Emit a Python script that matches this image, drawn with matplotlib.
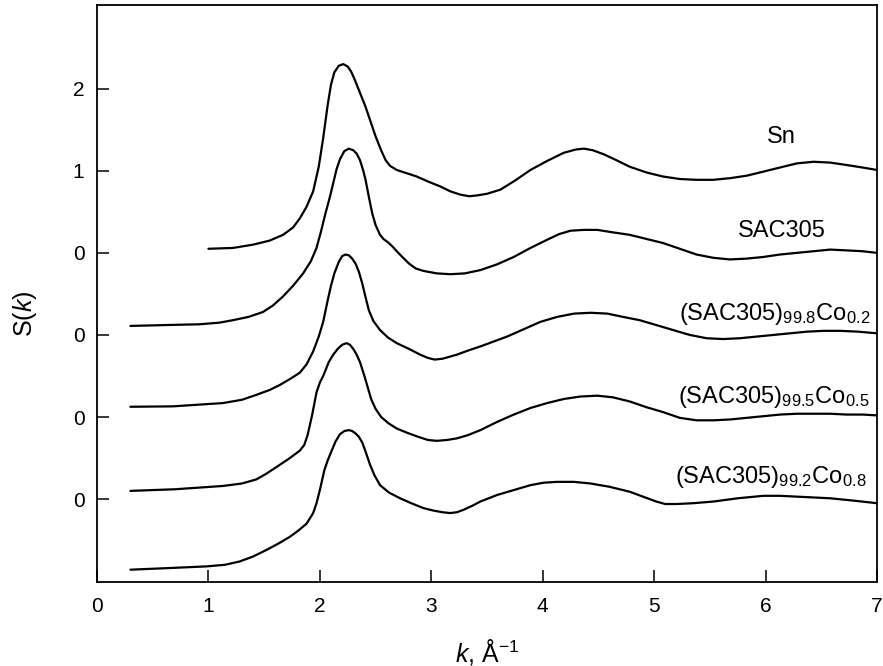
import matplotlib
matplotlib.use("Agg")
import matplotlib.pyplot as plt

plt.rcParams['font.family'] = ['Liberation Sans', 'DejaVu Sans']
plt.rcParams['mathtext.fontset'] = 'custom'
plt.rcParams['mathtext.rm'] = 'Liberation Sans'
plt.rcParams['mathtext.it'] = 'Liberation Sans:italic'

# ---------------- data ----------------
sn_k = [1.00, 1.22, 1.40, 1.55, 1.67, 1.76, 1.82, 1.88, 1.94, 1.99, 2.03, 2.07, 2.10, 2.13,
        2.17, 2.21, 2.25, 2.28, 2.31, 2.36, 2.41, 2.46, 2.50, 2.55, 2.59, 2.63, 2.69, 2.78,
        2.87, 2.97, 3.08, 3.17, 3.26, 3.34, 3.41, 3.50, 3.62, 3.75, 3.89, 4.04, 4.19, 4.30,
        4.37, 4.45, 4.55, 4.66, 4.78, 4.93, 5.08, 5.23, 5.38, 5.53, 5.68, 5.83, 5.98, 6.13,
        6.28, 6.43, 6.58, 6.73, 6.87, 7.00]
sn_s = [0.05, 0.06, 0.10, 0.15, 0.22, 0.31, 0.42, 0.56, 0.75, 1.05, 1.40, 1.80, 2.05, 2.20,
        2.28, 2.30, 2.27, 2.21, 2.12, 1.95, 1.78, 1.58, 1.42, 1.25, 1.13, 1.06, 1.01, 0.97,
        0.93, 0.87, 0.81, 0.75, 0.71, 0.69, 0.70, 0.72, 0.77, 0.88, 1.01, 1.12, 1.22, 1.26,
        1.27, 1.25, 1.20, 1.13, 1.05, 0.98, 0.93, 0.90, 0.89, 0.89, 0.91, 0.94, 0.99, 1.04,
        1.09, 1.11, 1.10, 1.07, 1.04, 1.01]

sac_k = [0.30, 0.60, 0.92, 1.10, 1.22, 1.36, 1.49, 1.58, 1.67, 1.76, 1.85, 1.92, 1.97, 2.01,
         2.05, 2.09, 2.12, 2.15, 2.18, 2.22, 2.26, 2.30, 2.33, 2.36, 2.39, 2.41, 2.44, 2.47,
         2.50, 2.54, 2.57, 2.61, 2.65, 2.69, 2.74, 2.80, 2.86, 2.93, 3.05, 3.17, 3.30, 3.44,
         3.59, 3.74, 3.89, 4.04, 4.15, 4.25, 4.37, 4.49, 4.63, 4.78, 4.93, 5.08, 5.23, 5.38,
         5.53, 5.68, 5.83, 5.98, 6.13, 6.28, 6.43, 6.58, 6.73, 6.87, 7.00]
sac_s = [0.11, 0.12, 0.13, 0.15, 0.18, 0.22, 0.28, 0.36, 0.47, 0.60, 0.75, 0.90, 1.06, 1.26,
         1.48, 1.68, 1.85, 2.02, 2.14, 2.24, 2.27, 2.25, 2.21, 2.13, 2.00, 1.89, 1.68, 1.48,
         1.34, 1.22, 1.17, 1.13, 1.08, 1.02, 0.95, 0.87, 0.81, 0.78, 0.75, 0.74, 0.75, 0.79,
         0.86, 0.95, 1.06, 1.16, 1.23, 1.27, 1.28, 1.28, 1.25, 1.22, 1.17, 1.12, 1.05, 0.98,
         0.94, 0.92, 0.93, 0.95, 0.98, 1.00, 1.02, 1.04, 1.03, 1.02, 1.00]

co2_k = [0.30, 0.68, 1.13, 1.30, 1.43, 1.55, 1.64, 1.74, 1.82, 1.88, 1.94, 1.99, 2.03, 2.07,
         2.10, 2.13, 2.17, 2.20, 2.23, 2.26, 2.29, 2.32, 2.35, 2.38, 2.41, 2.44, 2.48, 2.54,
         2.61, 2.69, 2.80, 2.90, 2.97, 3.03, 3.10, 3.23, 3.33, 3.44, 3.56, 3.68, 3.83, 3.98,
         4.13, 4.28, 4.43, 4.58, 4.72, 4.87, 5.02, 5.17, 5.32, 5.47, 5.62, 5.77, 5.92, 6.07,
         6.22, 6.37, 6.52, 6.67, 6.83, 7.00]
co2_s = [0.125, 0.13, 0.17, 0.21, 0.27, 0.33, 0.39, 0.47, 0.54, 0.64, 0.80, 0.98, 1.16, 1.42,
         1.60, 1.75, 1.89, 1.96, 1.98, 1.97, 1.93, 1.87, 1.77, 1.63, 1.46, 1.30, 1.17, 1.06,
         0.97, 0.90, 0.83, 0.76, 0.72, 0.70, 0.71, 0.76, 0.81, 0.86, 0.92, 0.98, 1.07, 1.16,
         1.22, 1.26, 1.27, 1.26, 1.22, 1.18, 1.12, 1.06, 1.00, 0.96, 0.95, 0.96, 0.98, 1.00,
         1.02, 1.04, 1.05, 1.05, 1.04, 1.02]

co5_k = [0.30, 0.70, 1.13, 1.30, 1.43, 1.52, 1.61, 1.72, 1.82, 1.86, 1.89, 1.93, 1.97, 2.00,
         2.03, 2.08, 2.12, 2.16, 2.20, 2.24, 2.27, 2.30, 2.33, 2.36, 2.40, 2.43, 2.46, 2.50,
         2.55, 2.62, 2.69, 2.78, 2.88, 2.97, 3.05, 3.14, 3.23, 3.33, 3.44, 3.59, 3.74, 3.89,
         4.04, 4.19, 4.34, 4.49, 4.63, 4.78, 4.93, 5.08, 5.23, 5.38, 5.53, 5.68, 5.83, 5.98,
         6.13, 6.28, 6.43, 6.58, 6.73, 6.87, 7.00]
co5_s = [0.10, 0.12, 0.16, 0.19, 0.24, 0.31, 0.39, 0.49, 0.59, 0.66, 0.78, 1.02, 1.30, 1.42,
         1.50, 1.67, 1.76, 1.83, 1.88, 1.90, 1.88, 1.83, 1.76, 1.67, 1.50, 1.36, 1.22, 1.10,
         1.00, 0.92, 0.86, 0.81, 0.76, 0.72, 0.71, 0.72, 0.74, 0.78, 0.84, 0.94, 1.03, 1.11,
         1.17, 1.22, 1.25, 1.26, 1.24, 1.19, 1.12, 1.06, 0.99, 0.96, 0.96, 0.97, 0.99, 1.01,
         1.03, 1.04, 1.04, 1.04, 1.03, 1.03, 1.02]

co8_k = [0.30, 0.65, 0.98, 1.15, 1.28, 1.40, 1.52, 1.63, 1.73, 1.81, 1.88, 1.94, 1.97, 2.00,
         2.04, 2.07, 2.10, 2.14, 2.18, 2.22, 2.26, 2.29, 2.32, 2.35, 2.38, 2.41, 2.45, 2.49,
         2.54, 2.62, 2.72, 2.82, 2.93, 3.02, 3.10, 3.17, 3.23, 3.29, 3.37, 3.44, 3.59, 3.74,
         3.89, 4.01, 4.13, 4.28, 4.43, 4.60, 4.78, 4.92, 5.02, 5.10, 5.20, 5.35, 5.53, 5.75,
         5.98, 6.13, 6.28, 6.43, 6.58, 6.80, 7.00]
co8_s = [0.14, 0.16, 0.18, 0.20, 0.24, 0.30, 0.38, 0.46, 0.54, 0.62, 0.70, 0.83, 0.95, 1.11,
         1.35, 1.47, 1.57, 1.70, 1.79, 1.83, 1.84, 1.83, 1.80, 1.76, 1.69, 1.58, 1.42, 1.29,
         1.17, 1.08, 1.01, 0.95, 0.89, 0.86, 0.84, 0.83, 0.84, 0.87, 0.92, 0.97, 1.05, 1.11,
         1.17, 1.20, 1.21, 1.21, 1.19, 1.15, 1.09, 1.02, 0.97, 0.94, 0.94, 0.95, 0.97, 1.01,
         1.04, 1.04, 1.03, 1.02, 1.01, 0.98, 0.95]

series_k = [sn_k, sac_k, co2_k, co5_k, co8_k]
series_s = [sn_s, sac_s, co2_s, co5_s, co8_s]
offsets = [0, -1, -2, -3, -4]
labels = ['Sn', 'SAC305',
          r'(SAC305)$_{99.8}$Co$_{0.2}$',
          r'(SAC305)$_{99.5}$Co$_{0.5}$',
          r'(SAC305)$_{99.2}$Co$_{0.8}$']

ytick_pos = [2, 1, 0, -1, -2, -3]
ytick_lab = ['2', '1', '0', '0', '0', '0']
xticks = [0, 1, 2, 3, 4, 5, 6, 7]

# ---------------- plot ----------------
fig = plt.figure(figsize=(8.83, 6.66), dpi=100)
ax = fig.add_axes([97/883, 1 - 582/666, 780/883, 577/666])

for k, s, off in zip(series_k, series_s, offsets):
    ax.plot(k, [v + off for v in s], color='black', lw=1.6,
            solid_joinstyle='round', solid_capstyle='round')

label_pos = [(6.14, 1.34), (6.15, 0.195), (6.08, -0.82), (6.07, -1.83), (6.05, -2.80)]
for (x, y), lab in zip(label_pos, labels):
    ax.text(x, y, lab, fontsize=17, ha='center', va='baseline')

ax.set_xlim(0, 7)
ax.set_ylim(-4.01, 3.02)
ax.set_xticks(xticks)
ax.set_xticklabels([str(v) for v in xticks])
ax.set_yticks(ytick_pos)
ax.set_yticklabels(ytick_lab)

ax.tick_params(axis='both', direction='in', length=8.5, width=1.1, labelsize=15,
               top=False, right=False)
ax.tick_params(axis='x', pad=11)
ax.tick_params(axis='y', pad=9)
for sp in ax.spines.values():
    sp.set_linewidth(1.3)

ax.set_ylabel(r'S($\mathit{k}$)', fontsize=18)
ax.yaxis.set_label_coords(-0.074, 0.464)
ax.set_xlabel(r'$\mathit{k}$, Å$^{-1}$', fontsize=18)
ax.xaxis.set_label_coords(0.5, -0.095)

fig.savefig('out.png', dpi=100)
